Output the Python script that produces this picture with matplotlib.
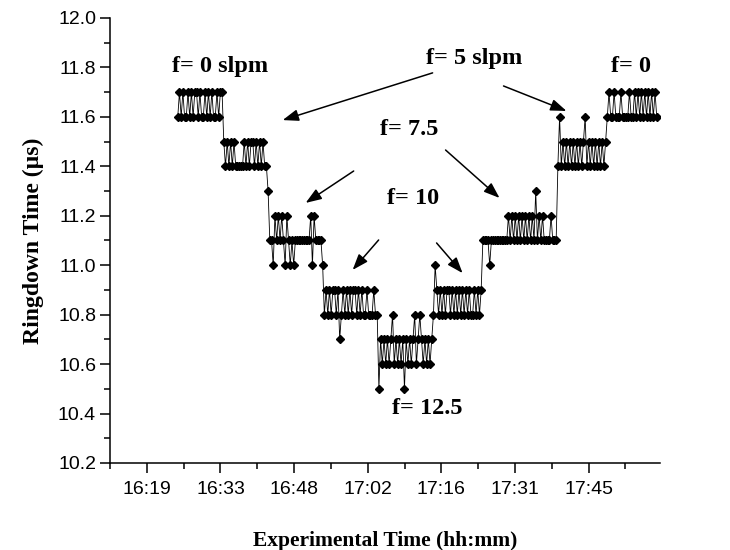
import numpy as np
import matplotlib
matplotlib.use('Agg')
import matplotlib.pyplot as plt
from matplotlib.ticker import MultipleLocator, FuncFormatter

# ringdown time (us) per flow step, sampled every 20 s starting 16:25:15
start_time = "16:25:15"
sample_interval_s = 20

seg_f0_start = [11.6, 11.7, 11.6, 11.7, 11.6, 11.6, 11.7, 11.6, 11.7, 11.6, 11.7, 11.7, 11.6, 11.7,
                11.6, 11.6, 11.7, 11.6, 11.7, 11.6, 11.7, 11.6, 11.6, 11.7, 11.6, 11.7, 11.7]
seg_f5_down = [11.5, 11.4, 11.5, 11.4, 11.5, 11.4, 11.5, 11.4, 11.4, 11.4, 11.4, 11.4, 11.5, 11.4,
               11.5, 11.4, 11.5, 11.5, 11.4, 11.5, 11.4, 11.5, 11.4, 11.5, 11.4, 11.4, 11.3]
seg_f7_5_down = [11.1, 11.1, 11.0, 11.2, 11.1, 11.2, 11.1, 11.2, 11.1, 11.0, 11.2, 11.1, 11.0, 11.1,
                 11.0, 11.1, 11.1, 11.1, 11.1, 11.1, 11.1, 11.1, 11.1, 11.1, 11.2, 11.0, 11.2, 11.1,
                 11.1, 11.1, 11.1, 11.0]
seg_f10_down = [10.8, 10.9, 10.8, 10.9, 10.8, 10.9, 10.9, 10.8, 10.9, 10.7, 10.8, 10.9, 10.8, 10.9,
                10.8, 10.9, 10.8, 10.9, 10.9, 10.8, 10.9, 10.8, 10.9, 10.8, 10.8, 10.9, 10.8, 10.8,
                10.8, 10.9, 10.8, 10.8]
seg_f12_5 = [10.5, 10.7, 10.6, 10.7, 10.6, 10.7, 10.6, 10.7, 10.8, 10.6, 10.7, 10.6, 10.7, 10.6,
             10.7, 10.5, 10.7, 10.6, 10.7, 10.6, 10.7, 10.8, 10.6, 10.7, 10.8, 10.7, 10.6, 10.7,
             10.6, 10.7, 10.6, 10.7]
seg_f10_up = [10.8, 11.0, 10.9, 10.8, 10.9, 10.8, 10.9, 10.8, 10.9, 10.9, 10.8, 10.9, 10.8, 10.9,
              10.8, 10.9, 10.8, 10.9, 10.8, 10.9, 10.8, 10.9, 10.8, 10.8, 10.9, 10.8, 10.9, 10.8, 10.9]
seg_f7_5_up = [11.1, 11.1, 11.1, 11.1, 11.0, 11.1, 11.1, 11.1, 11.1, 11.1, 11.1, 11.1, 11.1, 11.1,
               11.1, 11.2, 11.1, 11.2, 11.1, 11.2, 11.1, 11.2, 11.1, 11.2, 11.1, 11.2, 11.1, 11.2,
               11.1, 11.2, 11.1, 11.3, 11.1, 11.2, 11.1, 11.2, 11.1, 11.1, 11.1, 11.1, 11.2, 11.1,
               11.1, 11.1]
seg_f5_up = [11.4, 11.6, 11.4, 11.5, 11.4, 11.5, 11.4, 11.5, 11.4, 11.5, 11.4, 11.5, 11.4, 11.5,
             11.4, 11.5, 11.6, 11.4, 11.5, 11.4, 11.5, 11.4, 11.5, 11.4, 11.5, 11.4, 11.5, 11.4, 11.5]
seg_f0_end = [11.6, 11.7, 11.6, 11.6, 11.7, 11.6, 11.6, 11.6, 11.7, 11.6, 11.6, 11.6, 11.6, 11.7,
              11.6, 11.6, 11.7, 11.6, 11.7, 11.6, 11.7, 11.6, 11.7, 11.6, 11.7, 11.6, 11.7, 11.6,
              11.7, 11.6]

segments = [seg_f0_start, seg_f5_down, seg_f7_5_down, seg_f10_down, seg_f12_5,
            seg_f10_up, seg_f7_5_up, seg_f5_up, seg_f0_end]
ringdown = np.concatenate(segments)

# time axis as fraction of a day (Origin style)
h, m, s = [int(v) for v in start_time.split(':')]
t0 = (h * 3600 + m * 60 + s) / 86400.0
t = t0 + np.arange(len(ringdown)) * sample_interval_s / 86400.0

serif = 'Liberation Serif'
sans = 'Liberation Sans'

fig = plt.figure(figsize=(7.3, 5.5), dpi=100)
ax = fig.add_axes([0.1507, 0.1582, 0.7535, 0.8091])

ax.plot(t, ringdown, color='black', lw=0.6, marker='D', ms=4.2, mfc='black', mec='black')

ax.set_xlim(0.675, 0.7497)
ax.set_ylim(10.2, 12.0)

ax.xaxis.set_major_locator(MultipleLocator(0.01))
ax.xaxis.set_minor_locator(MultipleLocator(0.005))
ax.yaxis.set_major_locator(MultipleLocator(0.2))
ax.yaxis.set_minor_locator(MultipleLocator(0.1))


def hhmm(x, pos):
    mins = int(x * 1440 + 1e-6)
    return f"{mins // 60}:{mins % 60:02d}"


ax.xaxis.set_major_formatter(FuncFormatter(hhmm))
ax.yaxis.set_major_formatter(FuncFormatter(lambda v, p: f"{v:.1f}"))

for side in ['top', 'right']:
    ax.spines[side].set_visible(False)
for side in ['left', 'bottom']:
    ax.spines[side].set_linewidth(1.1)

ax.tick_params(which='major', direction='out', length=7, width=1.1, labelsize=14)
ax.tick_params(which='minor', direction='out', length=4, width=1.1)
ax.tick_params(axis='x', pad=6)
ax.tick_params(axis='y', pad=3)
for lab in ax.get_xticklabels() + ax.get_yticklabels():
    lab.set_fontfamily(sans)

ax.set_xlabel('Experimental Time (hh:mm)', fontsize=15.5, fontweight='bold', family=serif, labelpad=24)
ax.set_ylabel('Ringdown Time (\u00b5s)', fontsize=17, fontweight='bold', family=serif, labelpad=10)

txt = dict(fontsize=17.5, fontweight='bold', family=serif, ha='center', va='center')
ax.text(0.6899, 11.802, 'f= 0 slpm', **txt)
ax.text(0.72445, 11.838, 'f= 5 slpm', **txt)
ax.text(0.7458, 11.802, 'f= 0', **txt)
ax.text(0.71569, 11.547, 'f= 7.5', **txt)
ax.text(0.71609, 11.268, 'f= 10', **txt)
ax.text(0.71813, 10.422, 'f= 12.5', **txt)

arrow = dict(arrowstyle='-|>,head_length=0.6,head_width=0.22', lw=1.1, color='black',
             mutation_scale=16, shrinkA=0, shrinkB=0)
arrows = [((0.71881, 11.778), (0.69845, 11.587)),
          ((0.72844, 11.725), (0.73699, 11.624)),
          ((0.70809, 11.381), (0.70157, 11.252)),
          ((0.72057, 11.466), (0.72790, 11.272)),
          ((0.71148, 11.102), (0.70795, 10.981)),
          ((0.71935, 11.090), (0.72288, 10.968))]
for tail, head in arrows:
    ax.annotate('', xy=head, xytext=tail, arrowprops=arrow)

fig.savefig('out.png', dpi=100)
